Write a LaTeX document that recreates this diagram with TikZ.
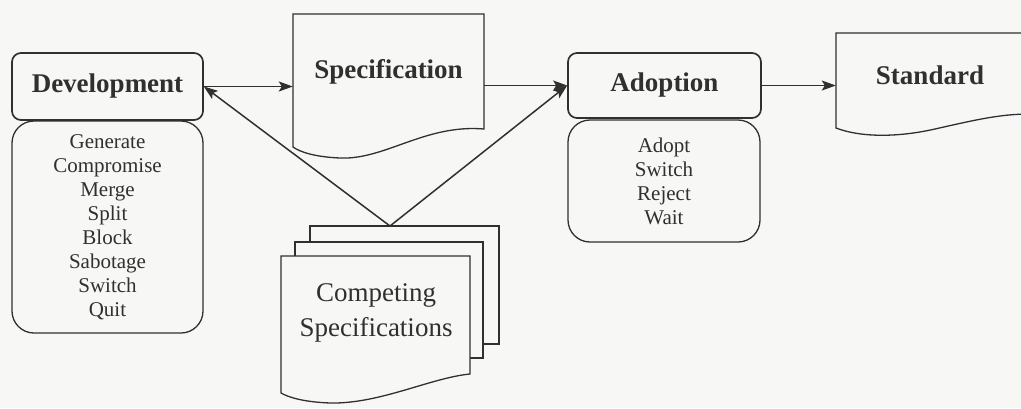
\documentclass[tikz,border=0pt]{standalone}
\usepackage{fontspec}
\setmainfont{Liberation Serif}
\usetikzlibrary{arrows.meta}
\definecolor{ink}{HTML}{303030}
\definecolor{paper}{HTML}{F7F7F5}
\begin{document}
\begin{tikzpicture}[x=1pt,y=-1pt,
  hdr/.style={draw=ink, rounded corners=9pt, line width=1.7pt, text=ink,
    font=\fontsize{27}{30}\selectfont\bfseries, inner sep=0pt},
  lst/.style={draw=ink, rounded corners=22pt, line width=1.3pt, text=ink,
    align=center, font=\fontsize{21}{24}\selectfont, inner sep=0pt},
  doc/.style={draw=ink, fill=paper, line width=1.3pt},
  lbl/.style={text=ink, inner sep=0pt, font=\fontsize{27}{30}\selectfont\bfseries},
  arr/.style={draw=ink, line width=1.5pt,
    -{Stealth[length=14pt,width=10pt,inset=3pt]}}]

% page
\fill[paper] (0,0) rectangle (1021,408);
\useasboundingbox (0,0) rectangle (1021,408);

% Development stage and its actions
\node[hdr, minimum width=191pt, minimum height=67pt] (dev) at (107.5,86.5) {Development};
\node[lst, minimum width=191pt, minimum height=212pt] (devl) at (107.5,227)
  {Generate\\Compromise\\Merge\\Split\\Block\\Sabotage\\Switch\\Quit};

% Adoption stage and its actions
\node[hdr, minimum width=193pt, minimum height=65pt] (adopt) at (664.5,85.5) {Adoption};
\node[lst, minimum width=192pt, minimum height=122pt] (adoptl) at (664,181)
  {Adopt\\Switch\\Reject\\Wait};

% Specification document
\draw[doc] (293,14) -- (484,14) -- (484,129)
  .. controls (425,124) and (385,160) .. (340,158)
  .. controls (315,157) and (300,152) .. (293,147) -- cycle;
\node[lbl, minimum width=191pt] (spec) at (388.5,72) {Specification};

% Standard document (runs past the right edge)
\draw[doc] (1030,33) -- (836,33) -- (836,128)
  .. controls (862,138) and (900,137) .. (935,129)
  .. controls (975,120) and (1000,114) .. (1030,114);
\node[lbl, minimum width=188pt] (std) at (930,75) {Standard};

% Competing specifications: a stack of three sheets
\coordinate (apex) at (390,226);
\draw[doc] (310,226) rectangle (499,344);
\draw[doc] (295,242) rectangle (483,358);
\draw[doc] (281,256) -- (470,256) -- (470,374)
  .. controls (430,378) and (380,404) .. (330,403)
  .. controls (305,402) and (290,398) .. (281,393) -- cycle;
\node[text=ink, align=center, inner sep=0pt,
  font=\fontsize{27}{35}\selectfont] (cs) at (376,313) {Competing\\Specifications};

% flow
\draw[arr] (dev.east) -- (dev.east -| spec.west);
\draw[arr] (adopt.west -| spec.east) -- (adopt.west);
\draw[arr] (adopt.east) -- (adopt.east -| std.west);
\draw[arr] (apex) -- (dev.east);
\draw[arr] (apex) -- (adopt.west);
\end{tikzpicture}
\end{document}
